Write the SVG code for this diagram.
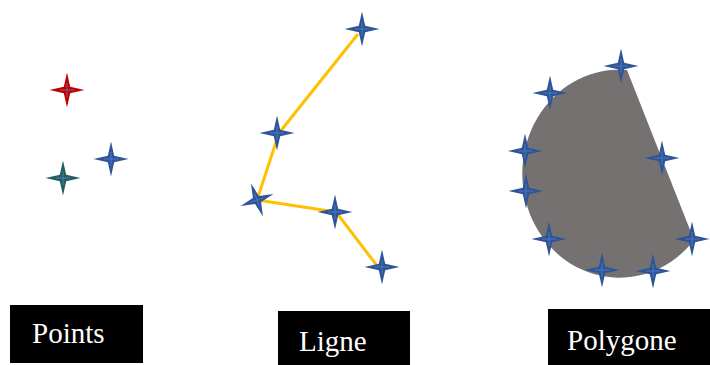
<svg xmlns="http://www.w3.org/2000/svg" xmlns:xlink="http://www.w3.org/1999/xlink" width="710" height="365" viewBox="0 0 710 365">
<style>
.lbl{font-family:'Liberation Serif','Times New Roman',serif;font-size:29px;fill:#ffffff}
.box{fill:#000000}
.hl{stroke:#5B86D0;stroke-width:1;opacity:0.7}
</style>
<defs>
<path id="star" d="M0,-17.5 Q1.6,-1.6 17.5,0 Q1.6,1.6 0,17.5 Q-1.6,1.6 -17.5,0 Q-1.6,-1.6 0,-17.5Z" transform="scale(1)"/>
<path id="star0" d="M0,-17.5 L3.2,-3.2 L17.5,0 L3.2,3.2 L0,17.5 L-3.2,3.2 L-17.5,0 L-3.2,-3.2 Z"/>
<g id="bstar"><use xlink:href="#star0" fill="#2F5597"/><path class="hl" d="M-7,0 H7 M0,-7 V7"/></g>
</defs>
<rect width="710" height="365" fill="#ffffff"/>
<g id="points">
<g id="p-red" transform="translate(67,90)"><use xlink:href="#star0" fill="#C00000"/><path class="hl" d="M-7,0 H7 M0,-7 V7"/></g>
<g id="p-teal" transform="translate(63,178)"><use xlink:href="#star0" fill="#1F5F5E"/><path class="hl" d="M-7,0 H7 M0,-7 V7"/></g>
<g id="p-blue" transform="translate(111,159)"><use xlink:href="#bstar"/></g>
</g>
<g id="connectors">
<polyline points="358,34 279,133 257,200 336,212 378,267" fill="none" stroke="#FFC000" stroke-width="3" stroke-linejoin="round"/>
</g>
<g id="ligne">
<g id="l1" transform="translate(362,29)"><use xlink:href="#bstar"/></g>
<g id="l2" transform="translate(277,133)"><use xlink:href="#bstar"/></g>
<g id="l3" transform="translate(257,200) rotate(-20)"><use xlink:href="#bstar"/></g>
<g id="l4" transform="translate(335,212)"><use xlink:href="#bstar"/></g>
<g id="l5" transform="translate(382,267)"><use xlink:href="#bstar"/></g>
</g>
<g id="polygon">
<path d="M627,70 A97 104 0 1 0 694,240 Z" fill="#767171"/>
<g transform="translate(621,66)"><use xlink:href="#bstar"/></g>
<g transform="translate(550,93)"><use xlink:href="#bstar"/></g>
<g transform="translate(525,151)"><use xlink:href="#bstar"/></g>
<g transform="translate(526,191)"><use xlink:href="#bstar"/></g>
<g transform="translate(549,239)"><use xlink:href="#bstar"/></g>
<g transform="translate(602,270)"><use xlink:href="#bstar"/></g>
<g transform="translate(653,271)"><use xlink:href="#bstar"/></g>
<g transform="translate(692,239)"><use xlink:href="#bstar"/></g>
<g transform="translate(662,158)"><use xlink:href="#bstar"/></g>
</g>
<g id="label-points"><rect class="box" x="10" y="305" width="133" height="58"/><text class="lbl" x="32" y="343">Points</text></g>
<g id="label-ligne"><rect class="box" x="278" y="311" width="132" height="54"/><text class="lbl" x="299" y="351">Ligne</text></g>
<g id="label-polygone"><rect class="box" x="548" y="309" width="162" height="56"/><text class="lbl" x="567" y="350">Polygone</text></g>
</svg>
